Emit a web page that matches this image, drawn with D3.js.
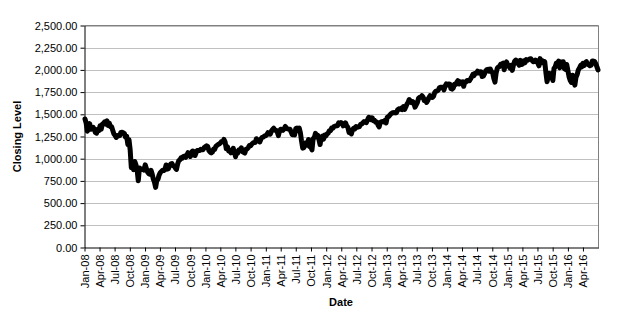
<!DOCTYPE html>
<html>
<head>
<meta charset="utf-8">
<script src="https://cdn.jsdelivr.net/npm/d3@7/dist/d3.min.js"></script>
<style>
  body { margin: 0; background: #fff; }
  text { font-family: "Liberation Sans", Arial, sans-serif; fill: #000; }
</style>
</head>
<body>
<svg id="chart" width="622" height="320"></svg>
<script>
// weekly closes (Friday), first Friday of each year below
const yearStarts = ["2008-01-04", "2009-01-02", "2010-01-08", "2011-01-07", "2012-01-06",
    "2013-01-04", "2014-01-03", "2015-01-02", "2016-01-08"];

const close2008 = [1447, 1401, 1310, 1330, 1395, 1331, 1349, 1353, 1331, 1294, 1288, 1330, 1316,
    1370, 1332, 1390, 1398, 1414, 1388, 1426, 1375, 1400, 1361, 1360, 1318, 1278,
    1262, 1239, 1261, 1257, 1260, 1296, 1298, 1292, 1283, 1242, 1252, 1160, 1213,
    1099, 899, 940, 877, 968, 930, 873, 752, 896, 876, 880, 887, 872];
const close2009 = [931, 890, 850, 832, 826, 869, 827, 770, 735, 677, 756, 769, 816,
    843, 857, 870, 866, 878, 929, 882, 887, 919, 940, 946, 921, 918,
    896, 879, 940, 979, 987, 1010, 1005, 1026, 1029, 1016, 1042, 1068, 1044,
    1025, 1072, 1087, 1079, 1036, 1069, 1093, 1091, 1092, 1106, 1102, 1102, 1126];
const close2010 = [1145, 1136, 1092, 1074, 1066, 1075, 1109, 1105, 1138, 1150, 1160, 1167,
    1179, 1194, 1192, 1217, 1187, 1111, 1136, 1088, 1089, 1065, 1092, 1117, 1076,
    1022, 1078, 1065, 1102, 1101, 1121, 1079, 1071, 1064, 1105, 1110, 1125, 1148,
    1146, 1165, 1176, 1183, 1183, 1225, 1199, 1199, 1189, 1224, 1240, 1243, 1257, 1258];
const close2011 = [1271, 1293, 1283, 1276, 1311, 1329, 1343, 1320, 1321, 1304, 1260, 1313,
    1332, 1328, 1320, 1337, 1364, 1340, 1337, 1333, 1331, 1300, 1271, 1271, 1268,
    1339, 1344, 1316, 1345, 1292, 1199, 1119, 1124, 1177, 1174, 1154, 1216, 1136, 1131,
    1099, 1224, 1238, 1285, 1253, 1263, 1216, 1159, 1244, 1255, 1220, 1265, 1258];
const close2012 = [1278, 1289, 1315, 1316, 1345, 1343, 1362, 1366, 1370, 1371, 1404, 1397, 1408,
    1398, 1370, 1378, 1403, 1369, 1353, 1295, 1318, 1278, 1325, 1343, 1335, 1362,
    1355, 1357, 1362, 1386, 1391, 1405, 1418, 1411, 1406, 1438, 1466, 1460, 1441,
    1461, 1429, 1433, 1412, 1414, 1380, 1359, 1409, 1416, 1418, 1413, 1430, 1402];
const close2013 = [1466, 1472, 1486, 1503, 1513, 1518, 1520, 1516, 1518, 1551, 1561, 1556, 1569,
    1553, 1588, 1555, 1582, 1614, 1633, 1667, 1650, 1631, 1643, 1626, 1580, 1606,
    1632, 1680, 1692, 1691, 1709, 1691, 1655, 1664, 1633, 1655, 1688, 1710, 1692,
    1690, 1703, 1745, 1759, 1762, 1771, 1798, 1804, 1806, 1805, 1775, 1818, 1842];
const close2014 = [1831, 1842, 1839, 1790, 1783, 1797, 1838, 1836, 1859, 1878, 1841, 1866, 1857,
    1865, 1816, 1864, 1863, 1881, 1878, 1878, 1900, 1924, 1950, 1937, 1963, 1961,
    1985, 1967, 1978, 1978, 1925, 1931, 1955, 1988, 2003, 2007, 1985, 2010, 1982,
    1968, 1906, 1862, 1964, 2018, 2032, 2039, 2064, 2068, 2075, 2002, 2071, 2089];
const close2015 = [2058, 2044, 2019, 2051, 1995, 2055, 2097, 2110, 2104, 2071, 2053, 2108, 2061,
    2067, 2102, 2081, 2117, 2108, 2116, 2123, 2126, 2107, 2092, 2094, 2110, 2101,
    2077, 2046, 2127, 2079, 2104, 2078, 2092, 1971, 1867, 1921, 1961, 1958, 1931,
    1881, 2015, 2033, 2075, 2079, 2099, 2023, 2089, 2090, 2092, 2012, 2006, 2061];
const close2016 = [1922, 1880, 1859, 1940, 1880, 1829, 1918, 1948, 2000, 2022, 2050, 2035,
    2073, 2048, 2081, 2092, 2065, 2057, 2047, 2052, 2099, 2099, 2096, 2071, 2037, 2000];

const yTicks = [0, 250, 500, 750, 1000, 1250, 1500, 1750, 2000, 2250, 2500];
const dateRange = ["2008-01-01", "2016-07-04"];
const lastTick = "2016-04-01";

const parse = d3.timeParse("%Y-%m-%d");
const closes = [close2008, close2009, close2010, close2011, close2012, close2013, close2014, close2015, close2016];

const data = [];
closes.forEach(function (list, k) {
    const start = parse(yearStarts[k]);
    list.forEach(function (v, i) {
        data.push({date: d3.timeDay.offset(start, i * 7), value: v});
    });
});

const svg = d3.select("#chart");
const plotLeft = 84.5, plotRight = 598.5, plotTop = 25.5, plotBottom = 247.5;

const x = d3.scaleTime().domain(dateRange.map(parse)).range([plotLeft, plotRight]);
const y = d3.scaleLinear().domain([0, 2500]).range([plotBottom, plotTop]);

// gridlines
svg.append("g").selectAll("line").data(yTicks.filter(d => d > 0)).join("line")
    .attr("x1", plotLeft).attr("x2", plotRight)
    .attr("y1", d => Math.round(y(d)) + 0.5).attr("y2", d => Math.round(y(d)) + 0.5)
    .attr("stroke", "#c0c0c0").attr("stroke-width", 1);

// frame (top and right)
svg.append("path")
    .attr("d", `M${plotLeft},${plotTop}H${plotRight}V${plotBottom}`)
    .attr("fill", "none").attr("stroke", "#808080").attr("stroke-width", 1);

// y axis
const yAxis = svg.append("g").attr("transform", `translate(${plotLeft},0)`)
    .call(d3.axisLeft(y).tickValues(yTicks).tickSize(4).tickSizeOuter(0).tickPadding(3)
        .tickFormat(d3.format(",.2f")));
yAxis.selectAll("text").style("font-size", "11px").attr("fill", "#000");
yAxis.selectAll("line, path").attr("stroke", "#000");

// x axis, quarterly ticks
const quarters = d3.timeMonth.every(3).range(parse(dateRange[0]), d3.timeDay.offset(parse(lastTick), 1));
const xAxis = svg.append("g").attr("transform", `translate(0,${plotBottom})`)
    .call(d3.axisBottom(x).tickValues(quarters).tickSize(4).tickSizeOuter(0)
        .tickFormat(d3.timeFormat("%b-%y")));
xAxis.select(".domain").attr("stroke", "#000");
xAxis.selectAll("line").attr("stroke", "#000");
xAxis.selectAll("text")
    .style("font-size", "11px")
    .attr("text-anchor", "end")
    .attr("transform", "rotate(-90)")
    .attr("x", -7).attr("y", 0).attr("dy", "0.35em");

// line
svg.append("path").datum(data)
    .attr("fill", "none").attr("stroke", "#000")
    .attr("stroke-width", 5).attr("stroke-linejoin", "round").attr("stroke-linecap", "round")
    .attr("d", d3.line().x(d => x(d.date)).y(d => y(d.value)));

// axis titles
svg.append("text").attr("transform", `translate(21,${(plotTop + plotBottom) / 2}) rotate(-90)`)
    .attr("text-anchor", "middle").style("font-size", "11px").style("font-weight", "bold")
    .text("Closing Level");
svg.append("text").attr("x", 341).attr("y", 306)
    .attr("text-anchor", "middle").style("font-size", "11px").style("font-weight", "bold")
    .text("Date");
</script>
</body>
</html>
